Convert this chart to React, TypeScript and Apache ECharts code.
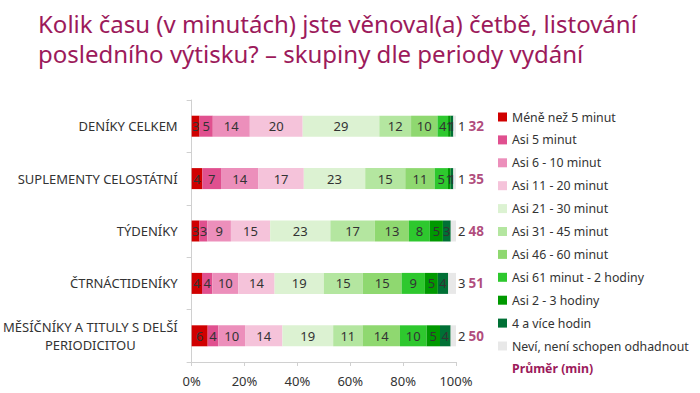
import React, { useEffect, useRef } from "react";
import * as echarts from "echarts";

const categories = [
  "DENÍKY CELKEM",
  "SUPLEMENTY CELOSTÁTNÍ",
  "TÝDENÍKY",
  "ČTRNÁCTIDENÍKY",
  "MĚSÍČNÍKY A TITULY S DELŠÍ\nPERIODICITOU",
];

const seriesNames = [
  "Méně než 5 minut",
  "Asi 5 minut",
  "Asi 6 - 10 minut",
  "Asi 11 - 20 minut",
  "Asi 21 - 30 minut",
  "Asi 31 - 45 minut",
  "Asi 46 - 60 minut",
  "Asi 61 minut - 2 hodiny",
  "Asi 2 - 3 hodiny",
  "4 a více hodin",
  "Neví, není schopen odhadnout",
];

const lessThan5 = [3, 4, 3, 4, 6];
const about5 = [5, 7, 3, 4, 4];
const min6to10 = [14, 14, 9, 10, 10];
const min11to20 = [20, 17, 15, 14, 14];
const min21to30 = [29, 23, 23, 19, 19];
const min31to45 = [12, 15, 17, 15, 11];
const min46to60 = [10, 11, 13, 15, 14];
const min61to2h = [4, 5, 8, 9, 10];
const h2to3 = [1, 1, 5, 5, 5];
const h4plus = [1, 1, 3, 4, 4];
const dontKnow = [1, 1, 2, 3, 2];
const averageMin = [32, 35, 48, 51, 50];
const xTicks = [0, 20, 40, 60, 80, 100];

const seriesValues = [
  lessThan5, about5, min6to10, min11to20, min21to30, min31to45,
  min46to60, min61to2h, h2to3, h4plus, dontKnow,
];

const colors = [
  "#d00000", "#e0508f", "#ec8fbb", "#f5c3da", "#dcf2d2", "#b4e6a0",
  "#8fd870", "#2ec82e", "#009900", "#007035", "#e8e8e8",
];

const FONT = "Noto Sans";
const ACCENT = "#9c1a5b";

export default function App() {
  const ref = useRef<HTMLDivElement>(null);
  useEffect(() => {
    document.body.style.margin = "0";
    if (!ref.current) return;
    const chart = echarts.init(ref.current, undefined, { renderer: "svg" });
    const rowSums = categories.map((_, i) =>
      seriesValues.reduce((s, arr) => s + arr[i], 0)
    );
    const barSeries = seriesNames.map((name, si) => ({
      name,
      type: "bar",
      stack: "total",
      barWidth: 21,
      itemStyle: { color: colors[si] },
      data: seriesValues[si].map((v, i) => (v / rowSums[i]) * 100),
      label: {
        show: true,
        position: si === 10 ? "right" : "inside",
        distance: 2,
        fontFamily: FONT,
        fontSize: 13,
        color: "#333",
        formatter: (p: any) => String(seriesValues[si][p.dataIndex]),
      },
    }));
    const avgSeries = {
      name: "Průměr (min)",
      type: "scatter",
      symbolSize: 1,
      clip: false,
      itemStyle: { color: "rgba(0,0,0,0)" },
      data: categories.map((_, i) => [100, i]),
      label: {
        show: true,
        position: "right",
        distance: 12,
        fontFamily: FONT,
        fontSize: 13.5,
        fontWeight: "bold",
        color: ACCENT,
        formatter: (p: any) => String(averageMin[p.dataIndex]),
      },
    };
    chart.setOption({
      animation: false,
      textStyle: { fontFamily: FONT },
      title: {
        text: "Kolik času (v minutách) jste věnoval(a) četbě, listování\nposledního výtisku? – skupiny dle periody vydání",
        left: 33,
        top: 3,
        textStyle: {
          fontFamily: FONT,
          fontSize: 24,
          lineHeight: 30,
          fontWeight: "normal",
          color: ACCENT,
        },
      },
      legend: {
        orient: "vertical",
        left: 493,
        top: 105,
        itemWidth: 9,
        itemHeight: 9,
        itemGap: 8.9,
        textStyle: { fontFamily: FONT, fontSize: 12.3, lineHeight: 14, color: "#333" },
        data: [
          ...seriesNames.map((n) => ({ name: n, icon: "rect" })),
          {
            name: "Průměr (min)",
            icon: "none",
            textStyle: { fontWeight: "bold", color: ACCENT },
          },
        ],
      },
      grid: { left: 190, right: 244, top: 100, bottom: 31 },
      xAxis: {
        type: "value",
        min: 0,
        max: 100,
        interval: 20,
        splitLine: { show: false },
        axisLine: { show: true, lineStyle: { color: "#d0d0d0" } },
        axisTick: { show: true, length: 4, lineStyle: { color: "#d0d0d0" } },
        axisLabel: {
          margin: 12,
          fontFamily: FONT,
          fontSize: 13,
          color: "#333",
          formatter: (v: number) => (xTicks.includes(v) ? v + "%" : ""),
        },
      },
      yAxis: {
        type: "category",
        inverse: true,
        data: categories,
        axisLine: { show: true, lineStyle: { color: "#d0d0d0" } },
        axisTick: { show: true, length: 5, lineStyle: { color: "#d0d0d0" } },
        axisLabel: {
          margin: 14,
          fontFamily: FONT,
          fontSize: 13,
          color: "#333",
          lineHeight: 18,
          formatter: (v: string) =>
            v
              .split("\n")
              .map((l) => "{c|" + l + "}")
              .join("\n"),
          rich: { c: { align: "center", fontFamily: FONT, fontSize: 13, color: "#333", lineHeight: 18 } },
        },
      },
      series: [...barSeries, avgSeries],
    });
    return () => chart.dispose();
  }, []);
  return <div ref={ref} style={{ width: 700, height: 393 }} />;
}
